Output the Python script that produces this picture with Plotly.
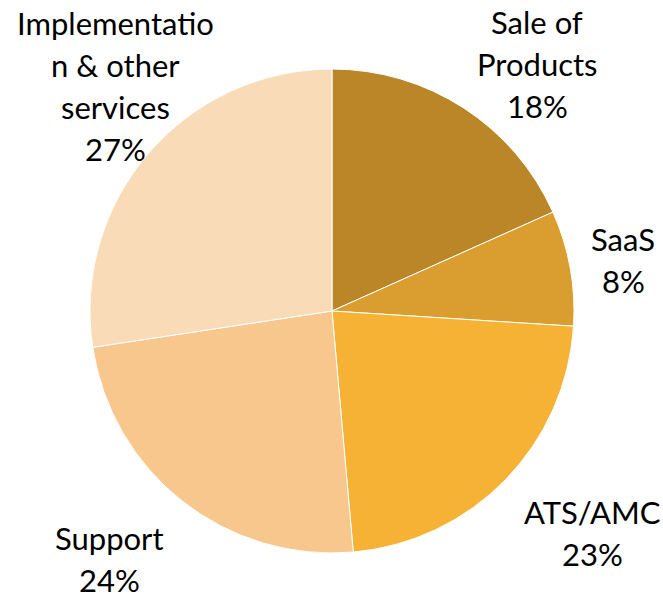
import plotly.graph_objects as go

categories = ["Sale of<br>Products", "SaaS", "ATS/AMC", "Support", "Implementatio<br>n & other<br>services"]
values = [18.3, 7.7, 22.6, 24.0, 27.4]
colors = ["#BB8628", "#DA9D30", "#F6B235", "#F8C78E", "#F9DBB8"]

W, H = 663, 595
# label block anchors (pixel centre x, first-line centre y) - layout only
label_pos = [(537, 22), (623, 239), (592, 512), (109, 538), (115, 23)]
LINE_STEP = 42
FONT = dict(family="Lato", size=31, color="#000000")

fig = go.Figure(go.Pie(
    labels=[c.replace("<br>", " ") for c in categories],
    values=values,
    sort=False,
    direction="clockwise",
    rotation=0,
    marker=dict(colors=colors, line=dict(color="#FFFFFF", width=1)),
    textinfo="none",
    domain=dict(x=[0.1357, 0.8658], y=[0.0706, 0.884]),
    hoverinfo="label+percent",
))

total = sum(values)
annotations = []
for cat, val, (px, py) in zip(categories, values, label_pos):
    lines = cat.split("<br>") + [f"{round(100 * val / total)}%"]
    for i, line in enumerate(lines):
        annotations.append(dict(
            text=line, x=px / W, y=1 - (py + i * LINE_STEP) / H,
            xref="paper", yref="paper", xanchor="center", yanchor="middle",
            showarrow=False, font=FONT,
        ))

fig.update_layout(
    width=W, height=H,
    margin=dict(l=0, r=0, t=0, b=0),
    paper_bgcolor="#FFFFFF",
    plot_bgcolor="#FFFFFF",
    showlegend=False,
    annotations=annotations,
)

fig.write_html(
    "out.html",
    config={"displayModeBar": False},
    post_script="document.body.style.margin='0';document.body.style.overflow='hidden';",
)
